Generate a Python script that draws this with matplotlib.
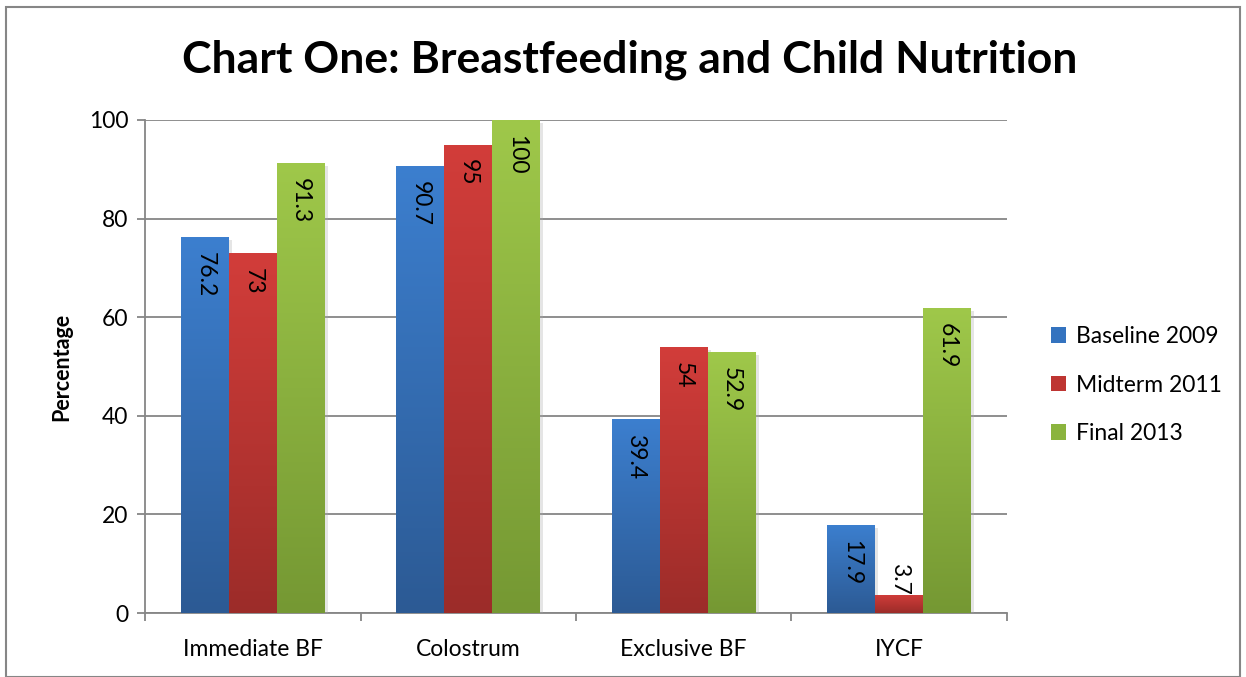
import numpy as np
import matplotlib
matplotlib.use("Agg")
import matplotlib.pyplot as plt
from matplotlib.colors import LinearSegmentedColormap
from matplotlib.patches import Rectangle, Patch
import matplotlib.patheffects as pe

categories = ["Immediate BF", "Colostrum", "Exclusive BF", "IYCF"]
series_names = ["Baseline 2009", "Midterm 2011", "Final 2013"]
baseline_2009 = [76.2, 90.7, 39.4, 17.9]
midterm_2011 = [73, 95, 54, 3.7]
final_2013 = [91.3, 100, 52.9, 61.9]
label_text = [["76.2", "90.7", "39.4", "17.9"],
              ["73", "95", "54", "3.7"],
              ["91.3", "100", "52.9", "61.9"]]
y_ticks = [0, 20, 40, 60, 80, 100]

series = [baseline_2009, midterm_2011, final_2013]
tops = ["#3C7FCF", "#D23D3A", "#9FC84A"]
bottoms = ["#2C5A94", "#9C2C29", "#759833"]
legend_cols = ["#3473BF", "#BE3532", "#8BB43E"]

plt.rcParams['font.family'] = ['Lato', 'DejaVu Sans']

fig = plt.figure(figsize=(12.46, 6.77), dpi=100)
ax = fig.add_axes([145/1246, 1-613/677, (1007-145)/1246, (613-120)/677])

# outer border
fig.patches.append(Rectangle((6/1246, 0.0), (1240-6)/1246, 1-7/677,
                             transform=fig.transFigure, fill=False,
                             edgecolor="#868686", linewidth=1.5))

x = np.arange(len(categories))
w = 0.2227
offsets = [-w, 0, w]
grad = np.linspace(0, 1, 256).reshape(-1, 1)
FS = 16.5

for i, vals in enumerate(series):
    bars = ax.bar(x + offsets[i], vals, width=w, color=tops[i], zorder=3,
                  linewidth=0,
                  path_effects=[pe.SimplePatchShadow(offset=(2, -2), shadow_rgbFace="#aaaaaa", alpha=0.3), pe.Normal()])
    cmap = LinearSegmentedColormap.from_list("g%d" % i, [bottoms[i], tops[i]])
    for b, v, t in zip(bars, vals, label_text[i]):
        x0 = b.get_x()
        im = ax.imshow(grad, extent=[x0, x0 + w, 0, v], origin="lower",
                       aspect="auto", cmap=cmap, zorder=4, interpolation="bilinear")
        im.set_clip_path(b)
        ytop = v - 3.0 if v > 12 else 10.1
        ax.text(x0 + w/2, ytop, t, rotation=-90, ha="center", va="top",
                fontsize=FS, color="black", zorder=6)

ax.set_xlim(-0.5, 3.5)
ax.set_ylim(0, 100)
ax.set_yticks(y_ticks)
ax.set_yticklabels([str(v) for v in y_ticks], fontsize=FS)
ax.yaxis.grid(True, color="#868686", linewidth=1.3, zorder=0)
ax.set_axisbelow(True)
ax.set_xticks(x)
ax.set_xticklabels(categories, fontsize=FS)
ax.set_xticks(np.arange(-0.5, 3.6, 1), minor=True)
ax.tick_params(axis="x", which="major", length=0, pad=19)
ax.tick_params(axis="x", which="minor", length=6, width=1.3, color="#868686", direction="out")
ax.tick_params(axis="y", length=6, width=1.3, color="#868686", direction="out", pad=6)
for s in ["top", "right"]:
    ax.spines[s].set_visible(False)
for s in ["left", "bottom"]:
    ax.spines[s].set_color("#868686")
    ax.spines[s].set_linewidth(1.3)

ax.set_ylabel("Percentage", fontsize=15.5, fontweight="bold", labelpad=12)

fig.text(630/1246, 1-60/677, "Chart One: Breastfeeding and Child Nutrition",
         ha="center", va="center", fontsize=32, fontweight="bold")

handles = [Patch(facecolor=c, edgecolor="none") for c in legend_cols]
fig.legend(handles, series_names, loc="center left",
           bbox_to_anchor=(1042/1246, 1-385/677), frameon=False,
           fontsize=FS, handlelength=0.65, handleheight=0.65,
           labelspacing=1.2, handletextpad=0.45, borderaxespad=0)

fig.savefig("out.png", dpi=100)
